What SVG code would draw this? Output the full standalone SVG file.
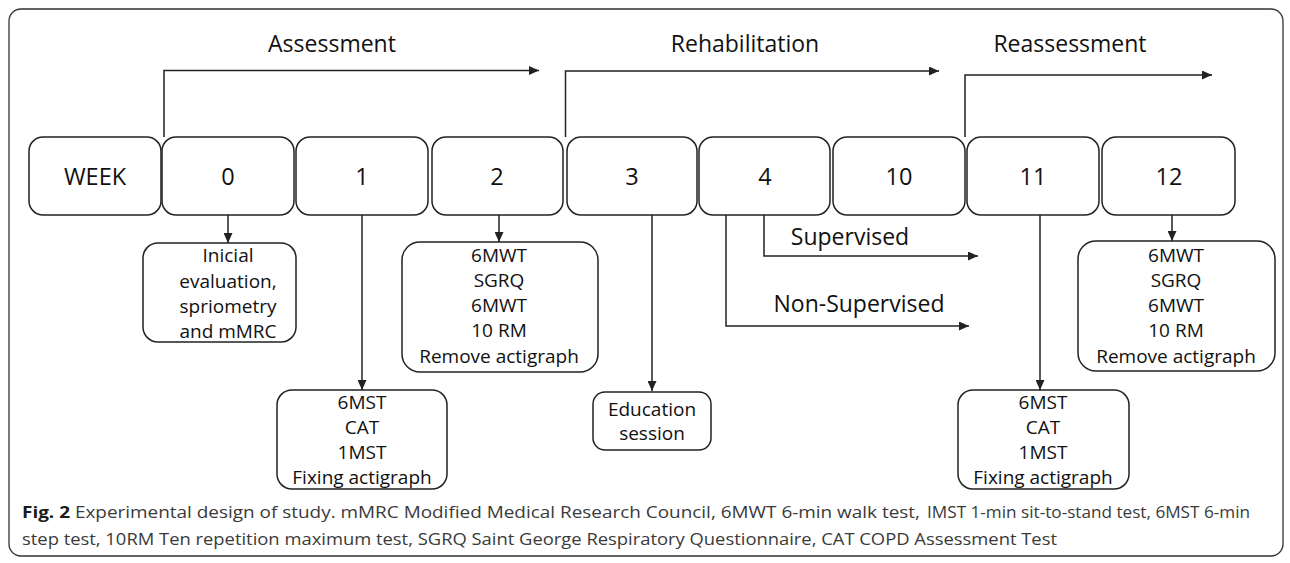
<svg xmlns="http://www.w3.org/2000/svg" width="1290" height="563" viewBox="0 0 1290 563">
<style>
.bx{fill:#fff;stroke:#222;stroke-width:1.5}
.t{font-family:"Open Sans","Liberation Sans",sans-serif;fill:#111;text-anchor:middle}
.wk{font-size:23.5px}
.sm{font-size:19px}
.ph{font-size:23px}
.ln{fill:none;stroke:#222;stroke-width:1.5}
.cap{font-family:"Open Sans","Liberation Sans",sans-serif;font-size:16.5px;fill:#3a3a3a}
</style>
<defs>
<marker id="ah" viewBox="0 0 10 10" refX="10" refY="5" markerWidth="10" markerHeight="9" markerUnits="userSpaceOnUse" orient="auto" preserveAspectRatio="none">
<path d="M0,0 L10,5 L0,10 z" fill="#222"/>
</marker>
</defs>
<rect x="9" y="9" width="1274" height="547" rx="12" fill="#fff" stroke="#333" stroke-width="1.3"/>
<g id="phases">
<text class="t ph" x="332" y="52">Assessment</text>
<text class="t ph" x="745" y="52">Rehabilitation</text>
<text class="t ph" x="1070" y="52">Reassessment</text>
</g>
<g id="connectors">
<path class="ln" d="M164,137 V70.5 H539" marker-end="url(#ah)"/>
<path class="ln" d="M565.5,137 V71 H939" marker-end="url(#ah)"/>
<path class="ln" d="M965,137 V75 H1212" marker-end="url(#ah)"/>
<path class="ln" d="M228,215 V243" marker-end="url(#ah)"/>
<path class="ln" d="M362,215 V390" marker-end="url(#ah)"/>
<path class="ln" d="M499,215 V242" marker-end="url(#ah)"/>
<path class="ln" d="M652,215 V391" marker-end="url(#ah)"/>
<path class="ln" d="M764,215 V256 H978" marker-end="url(#ah)"/>
<path class="ln" d="M726,215 V326 H969" marker-end="url(#ah)"/>
<path class="ln" d="M1040,215 V390" marker-end="url(#ah)"/>
<path class="ln" d="M1172,214 V241" marker-end="url(#ah)"/>
</g>
<g id="labels">
<text class="t ph" x="850" y="245">Supervised</text>
<text class="t ph" x="859" y="312">Non-Supervised</text>
</g>
<g id="week"><rect class="bx" x="29" y="137" width="132" height="78" rx="14"/><text class="t wk" x="95" y="185">WEEK</text></g>
<g id="w0"><rect class="bx" x="162" y="137" width="132" height="78" rx="14"/><text class="t wk" x="228" y="185">0</text></g>
<g id="w1"><rect class="bx" x="296" y="137" width="132" height="78" rx="14"/><text class="t wk" x="362" y="185">1</text></g>
<g id="w2"><rect class="bx" x="432" y="137" width="131" height="78" rx="14"/><text class="t wk" x="497" y="185">2</text></g>
<g id="w3"><rect class="bx" x="567" y="137" width="130" height="78" rx="14"/><text class="t wk" x="632" y="185">3</text></g>
<g id="w4"><rect class="bx" x="699" y="137" width="131" height="78" rx="14"/><text class="t wk" x="765" y="185">4</text></g>
<g id="w10"><rect class="bx" x="833" y="137" width="132" height="78" rx="14"/><text class="t wk" x="899" y="185">10</text></g>
<g id="w11"><rect class="bx" x="967" y="137" width="132" height="78" rx="14"/><text class="t wk" x="1033" y="185">11</text></g>
<g id="w12"><rect class="bx" x="1102" y="137" width="133" height="78" rx="14"/><text class="t wk" x="1169" y="185">12</text></g>
<g id="initial"><rect class="bx" x="143" y="243" width="153" height="99" rx="15"/>
<text class="t sm" x="228" y="262">Inicial</text><text class="t sm" x="228" y="288">evaluation,</text><text class="t sm" x="228" y="313">spriometry</text><text class="t sm" x="228" y="338">and mMRC</text></g>
<g id="tests1"><rect class="bx" x="277" y="390" width="170" height="99" rx="15"/>
<text class="t sm" x="362" y="409">6MST</text><text class="t sm" x="362" y="434">CAT</text><text class="t sm" x="362" y="459">1MST</text><text class="t sm" x="362" y="484">Fixing actigraph</text></g>
<g id="tests2"><rect class="bx" x="402" y="242" width="196" height="130" rx="18"/>
<text class="t sm" x="499" y="262">6MWT</text><text class="t sm" x="499" y="287">SGRQ</text><text class="t sm" x="499" y="312">6MWT</text><text class="t sm" x="499" y="337">10 RM</text><text class="t sm" x="499" y="363">Remove actigraph</text></g>
<g id="education"><rect class="bx" x="593" y="392" width="118" height="58" rx="12"/>
<text class="t sm" x="652" y="416">Education</text><text class="t sm" x="652" y="440">session</text></g>
<g id="tests11"><rect class="bx" x="958" y="390" width="171" height="99" rx="15"/>
<text class="t sm" x="1043" y="409">6MST</text><text class="t sm" x="1043" y="434">CAT</text><text class="t sm" x="1043" y="459">1MST</text><text class="t sm" x="1043" y="484">Fixing actigraph</text></g>
<g id="tests12"><rect class="bx" x="1078" y="241" width="197" height="130" rx="18"/>
<text class="t sm" x="1176" y="262">6MWT</text><text class="t sm" x="1176" y="287">SGRQ</text><text class="t sm" x="1176" y="312">6MWT</text><text class="t sm" x="1176" y="337">10 RM</text><text class="t sm" x="1176" y="363">Remove actigraph</text></g>
<g id="caption">
<text class="cap" x="22" y="518" textLength="898" lengthAdjust="spacingAndGlyphs"><tspan font-weight="bold" fill="#1a1a1a">Fig. 2</tspan> Experimental design of study. mMRC Modified Medical Research Council, 6MWT 6-min walk test,</text>
<text class="cap" x="927" y="518" textLength="323" lengthAdjust="spacingAndGlyphs">IMST 1-min sit-to-stand test, 6MST 6-min</text>
<text class="cap" x="22" y="545" textLength="1035" lengthAdjust="spacingAndGlyphs">step test, 10RM Ten repetition maximum test, SGRQ Saint George Respiratory Questionnaire, CAT COPD Assessment Test</text>
</g>
</svg>
